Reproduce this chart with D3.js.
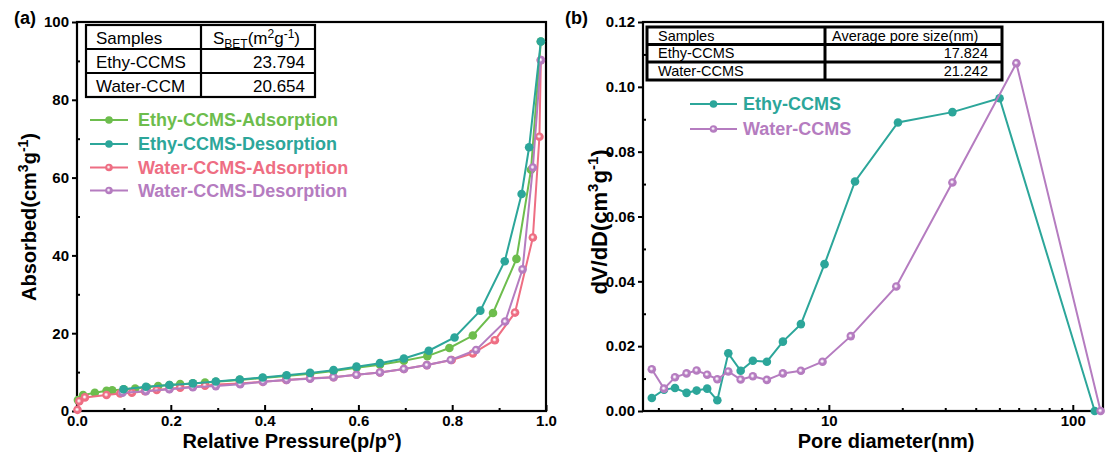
<!DOCTYPE html>
<html><head><meta charset="utf-8">
<script src="https://cdn.jsdelivr.net/npm/d3@7"></script>
<style>body{margin:0;background:#fff}svg{display:block}text{font-family:Arial,"Liberation Sans",sans-serif}</style>
</head><body>
<svg id="c" width="1108" height="463"></svg>
<script>
// ---------- data (panel a) ----------
const ethyAdsP = [0.002,0.013,0.038,0.063,0.075,0.1,0.124,0.149,0.173,0.197,0.22,0.247,0.273,0.296,0.347,0.396,0.446,0.497,0.547,0.596,0.646,0.697,0.747,0.794,0.844,0.887,0.937,0.968,0.989];
const ethyAdsV = [2.8,4.1,4.7,5.2,5.3,5.6,5.8,6.1,6.4,6.7,6.9,7.1,7.3,7.5,8.0,8.5,9.0,9.6,10.3,11.1,11.9,12.9,14.1,16.2,19.4,25.2,39.1,62.0,95.0];
const ethyDesP = [0.989,0.964,0.948,0.912,0.860,0.805,0.750,0.697,0.646,0.596,0.547,0.497,0.447,0.396,0.347,0.296,0.247,0.197,0.147,0.099];
const ethyDesV = [95.0,67.8,55.8,38.5,25.8,18.9,15.5,13.5,12.3,11.4,10.5,9.8,9.2,8.6,8.1,7.6,7.1,6.7,6.25,5.6];
const waterAdsP = [0.001,0.005,0.017,0.063,0.092,0.117,0.145,0.17,0.197,0.22,0.247,0.273,0.296,0.347,0.396,0.446,0.497,0.547,0.596,0.646,0.697,0.746,0.799,0.844,0.891,0.934,0.972,0.986,0.989];
const waterAdsV = [0.3,2.5,3.5,4.1,4.5,4.7,5.1,5.4,5.7,6.0,6.25,6.5,6.8,7.1,7.5,8.0,8.4,8.7,9.3,9.9,10.8,11.8,13.1,14.8,18.2,25.3,44.6,70.5,90.2];
const waterDesP = [0.989,0.972,0.950,0.913,0.851,0.797,0.746,0.697,0.646,0.596,0.547,0.497,0.447,0.397,0.348,0.296,0.247,0.197,0.147,0.097];
const waterDesV = [90.2,62.6,36.4,23.0,15.7,13.1,11.8,10.8,9.9,9.3,8.7,8.3,8.0,7.5,6.9,6.4,6.1,5.6,5.1,4.7];
const seriesA = ["Ethy-CCMS-Adsorption","Ethy-CCMS-Desorption","Water-CCMS-Adsorption","Water-CCMS-Desorption"];
const aXTicks = [0,0.2,0.4,0.6,0.8,1.0];
const aXMinor = [0.1,0.3,0.5,0.7,0.9];
const aYTicks = [0,20,40,60,80,100];
const aYMinor = [10,30,50,70,90];
const tableAHead = ["Samples","S_BET"];
const tableARows = [["Ethy-CCMS","23.794"],["Water-CCM","20.654"]];
// ---------- data (panel b) ----------
const poreEthy = [1.88,2.11,2.34,2.61,2.87,3.17,3.49,3.87,4.35,4.88,5.57,6.48,7.68,9.6,12.8,19.2,32.1,50.1,123];
const psdEthy  = [0.0040,0.0066,0.0071,0.0056,0.0063,0.0069,0.0033,0.0178,0.0124,0.0155,0.0152,0.0214,0.0268,0.0453,0.0708,0.0890,0.0922,0.0965,0];
const poreWater = [1.88,2.11,2.34,2.61,2.87,3.17,3.49,3.87,4.35,4.88,5.57,6.48,7.68,9.42,12.3,18.9,32.1,58.7,130];
const psdWater  = [0.0129,0.0069,0.0104,0.0116,0.0125,0.0112,0.0098,0.0122,0.0097,0.0107,0.0096,0.0116,0.0124,0.0152,0.0231,0.0384,0.0705,0.1073,0];
const seriesB = ["Ethy-CCMS","Water-CCMS"];
const bXTicks = [10,100];
const bXMinor = [2,3,4,5,6,7,8,9,20,30,40,50,60,70,80,90];
const bYTicks = [0,0.02,0.04,0.06,0.08,0.10,0.12];
const bYMinor = [0.01,0.03,0.05,0.07,0.09,0.11];
const tableBHead = ["Samples","Average pore size(nm)"];
const tableBRows = [["Ethy-CCMS","17.824"],["Water-CCMS","21.242"]];

const C = {green:"#6dbd4d", teal:"#2ca69a", pink:"#ee6e83", purple:"#b57cc0"};
const LIGHT = {pink:"#f8c3cc", purple:"#e2c8e8"};

const svg = d3.select("#c");

function panel(o){
  const {x,y,xTicks,xMinor,yTicks,yMinor,xFmt,yFmt} = o;
  const [x0,x1] = x.range(), [y0,y1] = y.range();
  const g = svg.append("g");
  g.append("g").attr("transform",`translate(0,${y0})`)
    .call(d3.axisBottom(x).tickValues(xTicks).tickSize(-6).tickPadding(4).tickFormat(xFmt));
  g.append("g").attr("transform",`translate(0,${y0})`)
    .call(d3.axisBottom(x).tickValues(xMinor).tickSize(-3).tickFormat(""));
  g.append("g").attr("transform",`translate(${x0},0)`)
    .call(d3.axisLeft(y).tickValues(yTicks).tickSize(5).tickPadding(3).tickFormat(yFmt));
  g.append("g").attr("transform",`translate(${x0},0)`)
    .call(d3.axisLeft(y).tickValues(yMinor).tickSize(-3).tickFormat(""));
  g.selectAll(".domain").remove();
  g.selectAll(".tick line").attr("stroke","#000").attr("stroke-width",2);
  g.selectAll(".tick text").attr("fill","#000").style("font-size","15px").style("font-weight","bold");
  g.append("rect").attr("x",x0).attr("y",y1).attr("width",x1-x0).attr("height",y0-y1)
    .attr("fill","none").attr("stroke","#000").attr("stroke-width",2.2);
  return g;
}

function marker(g, cx, cy, r, col, ball){
  g.append("circle").attr("cx",cx).attr("cy",cy).attr("r",r).attr("fill",col);
  if(ball){
    g.append("circle").attr("cx",cx-0.4).attr("cy",cy-0.4).attr("r",r*0.42).attr("fill",LIGHT[ball]);
    g.append("circle").attr("cx",cx-0.5).attr("cy",cy-0.5).attr("r",r*0.2).attr("fill","#fff");
  }
}

function drawSeries(g, xs, ys, x, y, col, ball){
  const pts = xs.map((d,i)=>[x(d), y(ys[i])]);
  g.append("path").attr("d", d3.line()(pts)).attr("fill","none").attr("stroke",col).attr("stroke-width",2);
  const mg = g.append("g");
  pts.forEach(p=>marker(mg, p[0], p[1], 4.3, col, ball));
}

function legend(items, x0, x1, tx, ys, size){
  items.forEach((it,i)=>{
    const yy = ys[i];
    svg.append("line").attr("x1",x0).attr("x2",x1).attr("y1",yy).attr("y2",yy).attr("stroke",it.col).attr("stroke-width",2);
    marker(svg, (x0+x1)/2, yy, 3.8, it.col, it.ball);
    svg.append("text").attr("x",tx).attr("y",yy).attr("dy","0.36em").attr("fill",it.col)
      .style("font-size",size+"px").style("font-weight","bold").text(it.name);
  });
}

// ---------- panel a ----------
const xA = d3.scaleLinear().domain([0,1]).range([77,546]);
const yA = d3.scaleLinear().domain([0,100]).range([411,22]);
const gA = panel({x:xA,y:yA,xTicks:aXTicks,xMinor:aXMinor,yTicks:aYTicks,yMinor:aYMinor,xFmt:d3.format(".1f"),yFmt:d3.format("d")});
drawSeries(gA, ethyAdsP, ethyAdsV, xA, yA, C.green);
drawSeries(gA, waterAdsP, waterAdsV, xA, yA, C.pink, "pink");
drawSeries(gA, waterDesP, waterDesV, xA, yA, C.purple, "purple");
drawSeries(gA, ethyDesP, ethyDesV, xA, yA, C.teal);

(function(){
  const x0=86, x1=315, xc=201, rows=[25,49,73,97];
  const t = svg.append("g");
  t.append("rect").attr("x",x0).attr("y",rows[0]).attr("width",x1-x0).attr("height",rows[3]-rows[0]).attr("fill","#fff").attr("stroke","#000").attr("stroke-width",2.2);
  [rows[1],rows[2]].forEach(r=>t.append("line").attr("x1",x0).attr("x2",x1).attr("y1",r).attr("y2",r).attr("stroke","#000").attr("stroke-width",2.2));
  t.append("line").attr("x1",xc).attr("x2",xc).attr("y1",rows[0]).attr("y2",rows[3]).attr("stroke","#000").attr("stroke-width",2.2);
  const fs = 17;
  t.append("text").attr("x",96).attr("y",rows[0]+18.5).style("font-size",fs+"px").text(tableAHead[0]);
  const h = t.append("text").attr("x",213).attr("y",rows[0]+18.5).style("font-size",fs+"px");
  h.append("tspan").text("S");
  h.append("tspan").attr("dy",4).style("font-size","12px").text("BET");
  h.append("tspan").attr("dy",-4).text("(m");
  h.append("tspan").attr("dy",-6).style("font-size","12px").text("2");
  h.append("tspan").attr("dy",6).text("g");
  h.append("tspan").attr("dy",-6).style("font-size","12px").text("-1");
  h.append("tspan").attr("dy",6).text(")");
  tableARows.forEach((r,i)=>{
    t.append("text").attr("x",96).attr("y",rows[i+1]+18.5).style("font-size",fs+"px").text(r[0]);
    t.append("text").attr("x",305).attr("y",rows[i+1]+18.5).attr("text-anchor","end").style("font-size",fs+"px").text(r[1]);
  });
})();
legend([
  {name:seriesA[0],col:C.green},
  {name:seriesA[1],col:C.teal},
  {name:seriesA[2],col:C.pink,ball:"pink"},
  {name:seriesA[3],col:C.purple,ball:"purple"}
], 90, 128, 138, [120,144,167.5,190.5], 18);

// ---------- panel b ----------
const xB = d3.scaleLog().domain([1.73,133]).range([643,1103]);
const yB = d3.scaleLinear().domain([0,0.12]).range([411,22]);
const gB = panel({x:xB,y:yB,xTicks:bXTicks,xMinor:bXMinor,yTicks:bYTicks,yMinor:bYMinor,xFmt:d3.format("d"),yFmt:d3.format(".2f")});
drawSeries(gB, poreEthy, psdEthy, xB, yB, C.teal);
drawSeries(gB, poreWater, psdWater, xB, yB, C.purple, "purple");

(function(){
  const x0=647, x1=1002, xc=825, rows=[27,44.5,62,80];
  const t = svg.append("g");
  t.append("rect").attr("x",x0).attr("y",rows[0]).attr("width",x1-x0).attr("height",rows[3]-rows[0]).attr("fill","#fff").attr("stroke","#000").attr("stroke-width",3);
  [rows[1],rows[2]].forEach(r=>t.append("line").attr("x1",x0).attr("x2",x1).attr("y1",r).attr("y2",r).attr("stroke","#000").attr("stroke-width",3));
  t.append("line").attr("x1",xc).attr("x2",xc).attr("y1",rows[0]).attr("y2",rows[3]).attr("stroke","#000").attr("stroke-width",3);
  const fs = 14.5;
  t.append("text").attr("x",658).attr("y",rows[0]+14).style("font-size",fs+"px").text(tableBHead[0]);
  t.append("text").attr("x",832).attr("y",rows[0]+14).style("font-size",fs+"px").text(tableBHead[1]);
  tableBRows.forEach((r,i)=>{
    t.append("text").attr("x",658).attr("y",rows[i+1]+13.5).style("font-size",fs+"px").text(r[0]);
    t.append("text").attr("x",988).attr("y",rows[i+1]+13.5).attr("text-anchor","end").style("font-size",fs+"px").text(r[1]);
  });
})();
legend([
  {name:seriesB[0],col:C.teal},
  {name:seriesB[1],col:C.purple,ball:"purple"}
], 690, 737, 743, [104,129], 18);

// ---------- titles ----------
function bold(x,y,txt,size,anchor){
  return svg.append("text").attr("x",x).attr("y",y).attr("text-anchor",anchor||"start")
    .style("font-size",size+"px").style("font-weight","bold").text(txt);
}
bold(14,24,"(a)",18);
bold(565,24,"(b)",18);
bold(292,448,"Relative Pressure(p/p°)",20,"middle");
bold(886,448,"Pore diameter(nm)",20,"middle");
function ylab(x,y,size,sup,parts){
  const t = svg.append("text").attr("transform",`translate(${x},${y}) rotate(-90)`).attr("text-anchor","middle")
    .style("font-size",size+"px").style("font-weight","bold");
  parts.forEach(p=>{
    const s = t.append("tspan").text(p[0]);
    if(p[1]) s.attr("dy",p[1]);
    if(p[2]) s.style("font-size",sup+"px");
  });
}
ylab(36,217,20,14,[["Absorbed(cm"],["3",-8,1],["g",8],["-1",-8,1],[")",8]]);
ylab(607,222,22,15,[["dV/dD(cm"],["3",-9,1],["g",9],["-1",-9,1],[")",9]]);
</script>
</body></html>
